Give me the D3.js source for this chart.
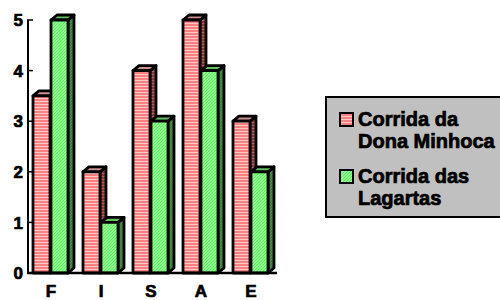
<!DOCTYPE html>
<html>
<head>
<meta charset="utf-8">
<script src="https://cdn.jsdelivr.net/npm/d3@7"></script>
<style>
  body { margin: 0; background: #fff; }
  svg { display: block; }
</style>
</head>
<body>
<div id="chart"></div>
<script>
// Chart data
const categories = ['F', 'I', 'S', 'A', 'E'];
const seriesNames = ['Corrida da Dona Minhoca', 'Corrida das Lagartas'];
const minhocaValues = [3.5, 2, 4, 5, 3];
const lagartasValues = [5, 1, 3, 4, 2];
const yTicks = [0, 1, 2, 3, 4, 5];

const width = 500, height = 300;
const depthX = 6, depthY = 5;
const FONT = 'Arial, "Liberation Sans", sans-serif';

const svg = d3.select('#chart').append('svg')
    .attr('width', width)
    .attr('height', height);

// Patterns for the old-school hatched fills
const defs = svg.append('defs');

function stripes(id, a, b) {
    const p = defs.append('pattern').attr('id', id)
        .attr('patternUnits', 'userSpaceOnUse').attr('width', 4).attr('height', 3);
    p.append('rect').attr('width', 4).attr('height', 3).attr('fill', a);
    p.append('rect').attr('y', 2).attr('width', 4).attr('height', 1).attr('fill', b);
}
function hatch(id, a, b) {
    const p = defs.append('pattern').attr('id', id)
        .attr('patternUnits', 'userSpaceOnUse').attr('width', 3).attr('height', 3);
    p.append('rect').attr('width', 3).attr('height', 3).attr('fill', a);
    p.append('path').attr('d', 'M0,3 L3,0').attr('stroke', b).attr('stroke-width', 0.8);
}
stripes('redFront', '#ff8080', '#ffc8c8');
stripes('redSide', '#803838', '#b06060');
hatch('greenFront', '#88ff88', '#60e060');
hatch('greenSide', '#3c803c', '#509050');

const styles = [
    { front: 'url(#redFront)', side: 'url(#redSide)', top: '#c89090', swatch: 'url(#redFront)' },
    { front: 'url(#greenFront)', side: 'url(#greenSide)', top: '#60c060', swatch: 'url(#greenFront)' }
];

const x = d3.scaleBand().domain(categories).range([28, 278]);
const x1 = d3.scaleBand().domain(seriesNames).range([5, 41]);
const y = d3.scaleLinear().domain([0, 5]).range([273, 20]);

const rows = categories.map((c, i) => ({ cat: c, vals: [minhocaValues[i], lagartasValues[i]] }));

// Bars (3D look: front, side, top)
rows.forEach(r => {
    r.vals.forEach((v, si) => {
        const st = styles[si];
        const x0 = x(r.cat) + x1(seriesNames[si]);
        const w = x1.bandwidth() - 1;
        const yt = y(v), yb = y(0);
        const g = svg.append('g').attr('stroke', '#000').attr('stroke-width', 2.8).attr('stroke-linejoin', 'round');
        g.append('path')
            .attr('d', `M${x0 + w},${yt} L${x0 + w + depthX},${yt - depthY} L${x0 + w + depthX},${yb - depthY} L${x0 + w},${yb} Z`)
            .attr('fill', st.side);
        g.append('path')
            .attr('d', `M${x0},${yt} L${x0 + depthX},${yt - depthY} L${x0 + w + depthX},${yt - depthY} L${x0 + w},${yt} Z`)
            .attr('fill', st.top);
        g.append('rect')
            .attr('x', x0).attr('y', yt)
            .attr('width', w).attr('height', yb - yt)
            .attr('fill', st.front);
    });
});

// bold text, with a thin stroke so it reads as heavy as the original
function label(sel, size) {
    return sel.style('font-family', FONT).style('font-weight', 'bold')
        .style('font-size', size + 'px').attr('fill', '#000')
        .attr('stroke', '#000').attr('stroke-width', 0.7);
}

// Y axis
const yAxis = svg.append('g');
yAxis.append('line').attr('x1', 28).attr('x2', 28).attr('y1', y(5)).attr('y2', y(0))
    .attr('stroke', '#000').attr('stroke-width', 2);
yTicks.forEach(t => {
    yAxis.append('line').attr('x1', 27).attr('x2', 33).attr('y1', y(t)).attr('y2', y(t))
        .attr('stroke', '#000').attr('stroke-width', 1.5);
    label(yAxis.append('text'), 17).attr('x', 23).attr('y', y(t)).attr('dy', '0.36em')
        .attr('text-anchor', 'end').text(t);
});

// X axis
svg.append('line').attr('x1', 27).attr('x2', 277).attr('y1', y(0)).attr('y2', y(0))
    .attr('stroke', '#000').attr('stroke-width', 2.5);
categories.forEach(c => {
    label(svg.append('text'), 17).attr('x', x(c) + 23).attr('y', 297)
        .attr('text-anchor', 'middle').text(c);
});

// Legend
const legend = svg.append('g');
legend.append('rect').attr('x', 326).attr('y', 97).attr('width', 190).attr('height', 120)
    .attr('fill', '#c0c0c0').attr('stroke', '#000').attr('stroke-width', 2);
const legendLines = [['Corrida da', 'Dona Minhoca'], ['Corrida das', 'Lagartas']];
const legendTop = [126, 183];
legendLines.forEach((lines, i) => {
    legend.append('rect').attr('x', 340).attr('y', legendTop[i] - 13).attr('width', 13).attr('height', 13)
        .attr('fill', styles[i].swatch).attr('stroke', '#000').attr('stroke-width', 2);
    lines.forEach((l, j) => {
        label(legend.append('text'), 20).attr('x', 358).attr('y', legendTop[i] + j * 22).text(l);
    });
});
</script>
</body>
</html>
